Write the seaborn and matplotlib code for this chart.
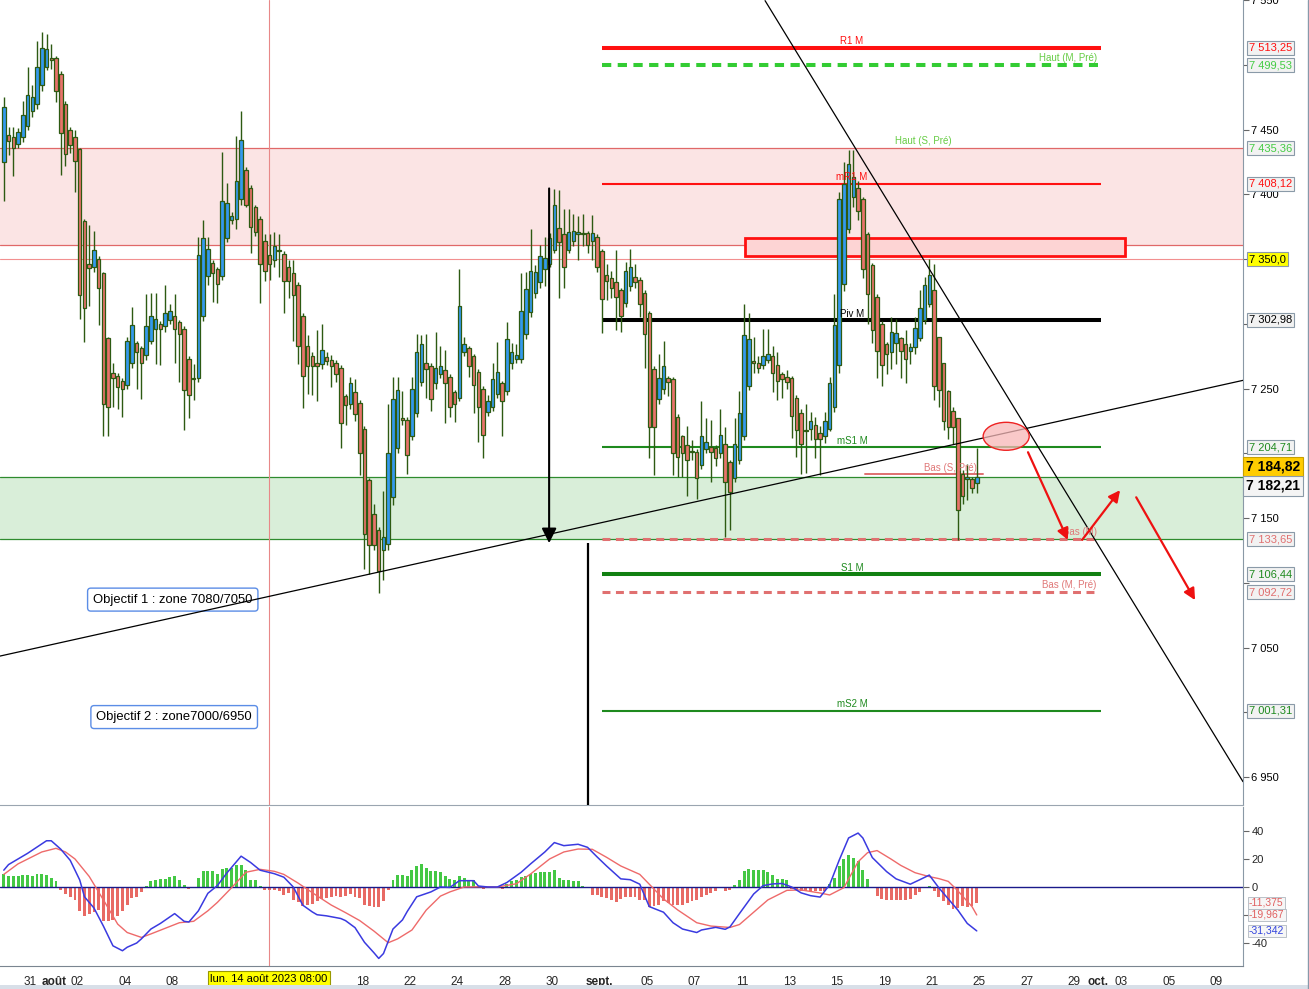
import numpy as np
import matplotlib
matplotlib.use("Agg")
import matplotlib.pyplot as plt
import matplotlib.transforms as mtransforms
from matplotlib.patches import Rectangle, Ellipse
from matplotlib.lines import Line2D
import seaborn as sns

sns.set_style("white")
plt.rcParams['font.family'] = ['Liberation Sans', 'DejaVu Sans']

# ---------------- DATA (2h candles, CAC 40, 27 Jul -> 22 Sep 2023) ----------------
opens = [
    7425, 7446, 7444, 7439, 7444, 7453, 7464, 7470, 7484, 7498,
    7505, 7505, 7493, 7470, 7450, 7444, 7435, 7379, 7346, 7344,
    7350, 7339, 7289, 7262, 7260, 7256, 7253, 7270, 7285, 7281,
    7276, 7287, 7296, 7300, 7298, 7303, 7306, 7301, 7296, 7273,
    7258, 7258, 7306, 7337, 7347, 7342, 7337, 7366, 7380, 7381,
    7396, 7419, 7405, 7390, 7381, 7364, 7353, 7349, 7356, 7354,
    7344, 7339, 7330, 7306, 7283, 7275, 7270, 7269, 7274, 7272,
    7270, 7266, 7244, 7238, 7247, 7239, 7219, 7179, 7153, 7141,
    7125, 7130, 7166, 7204, 7227, 7226, 7213, 7231, 7255, 7270,
    7267, 7254, 7261, 7264, 7259, 7247, 7243, 7278, 7281, 7275,
    7263, 7250, 7232, 7236, 7246, 7254, 7248, 7270, 7273, 7273,
    7292, 7309, 7324, 7332, 7342, 7346, 7357, 7374, 7369, 7357,
    7364, 7369, 7370, 7370, 7364, 7367, 7356, 7338, 7335, 7332,
    7326, 7316, 7329, 7336, 7334, 7324, 7308, 7265, 7242, 7250,
    7258, 7257, 7228, 7213, 7206, 7202, 7201, 7191, 7203, 7205,
    7204, 7200, 7207, 7193, 7181, 7195, 7213, 7252, 7271, 7270,
    7268, 7272, 7275, 7268, 7261, 7259, 7258, 7243, 7231, 7218,
    7219, 7222, 7216, 7213, 7219, 7236, 7268, 7331, 7373, 7398,
    7405, 7396, 7369, 7345, 7321, 7300, 7284, 7278, 7285, 7289,
    7284, 7279, 7282, 7289, 7303, 7315, 7326, 7290, 7270, 7248,
    7233, 7227, 7184, 7180, 7180, 7177,
]
highs = [
    7475, 7452, 7452, 7451, 7472, 7498, 7484, 7518, 7525, 7524,
    7516, 7507, 7495, 7472, 7452, 7450, 7436, 7381, 7376, 7372,
    7352, 7340, 7290, 7270, 7262, 7258, 7290, 7313, 7287, 7283,
    7323, 7324, 7324, 7302, 7330, 7315, 7323, 7303, 7298, 7275,
    7269, 7367, 7380, 7367, 7349, 7344, 7433, 7409, 7386, 7445,
    7464, 7421, 7407, 7392, 7383, 7369, 7369, 7371, 7369, 7356,
    7349, 7349, 7332, 7308, 7291, 7278, 7295, 7300, 7278, 7276,
    7272, 7268, 7246, 7259, 7257, 7241, 7221, 7181, 7161, 7143,
    7171, 7238, 7259, 7259, 7248, 7228, 7259, 7292, 7291, 7292,
    7270, 7294, 7283, 7280, 7261, 7249, 7342, 7290, 7283, 7277,
    7265, 7252, 7245, 7270, 7286, 7256, 7301, 7285, 7284, 7339,
    7340, 7373, 7345, 7361, 7367, 7370, 7404, 7403, 7389, 7389,
    7385, 7383, 7385, 7372, 7384, 7369, 7358, 7346, 7341, 7357,
    7328, 7348, 7358, 7346, 7336, 7326, 7310, 7267, 7277, 7287,
    7260, 7259, 7230, 7214, 7221, 7210, 7203, 7240, 7227, 7226,
    7206, 7234, 7220, 7195, 7227, 7248, 7315, 7308, 7290, 7275,
    7296, 7296, 7283, 7278, 7263, 7264, 7260, 7245, 7234, 7238,
    7232, 7228, 7221, 7232, 7259, 7323, 7402, 7425, 7434, 7434,
    7410, 7398, 7371, 7347, 7323, 7302, 7286, 7305, 7304, 7290,
    7295, 7285, 7305, 7326, 7336, 7350, 7346, 7290, 7270, 7249,
    7236, 7227, 7187, 7192, 7182, 7204,
]
lows = [
    7395, 7430, 7414, 7436, 7440, 7450, 7460, 7466, 7480, 7496,
    7497, 7471, 7415, 7422, 7432, 7402, 7304, 7286, 7314, 7340,
    7299, 7213, 7213, 7236, 7234, 7228, 7250, 7266, 7250, 7242,
    7272, 7284, 7269, 7268, 7294, 7300, 7270, 7255, 7218, 7227,
    7241, 7255, 7302, 7330, 7317, 7316, 7334, 7363, 7377, 7373,
    7392, 7390, 7355, 7368, 7316, 7333, 7334, 7344, 7336, 7308,
    7320, 7287, 7269, 7235, 7246, 7245, 7240, 7265, 7268, 7251,
    7255, 7204, 7222, 7234, 7225, 7183, 7111, 7107, 7125, 7092,
    7102, 7125, 7160, 7200, 7222, 7184, 7210, 7228, 7252, 7243,
    7233, 7250, 7258, 7223, 7228, 7224, 7240, 7275, 7259, 7231,
    7209, 7196, 7229, 7233, 7243, 7213, 7245, 7265, 7270, 7270,
    7288, 7305, 7320, 7328, 7329, 7344, 7355, 7320, 7328, 7355,
    7360, 7349, 7360, 7355, 7349, 7340, 7293, 7318, 7320, 7295,
    7294, 7313, 7325, 7328, 7305, 7266, 7196, 7183, 7238, 7246,
    7244, 7183, 7182, 7182, 7167, 7195, 7165, 7188, 7200, 7178,
    7190, 7196, 7135, 7141, 7178, 7192, 7210, 7249, 7262, 7262,
    7265, 7270, 7247, 7241, 7243, 7250, 7212, 7197, 7184, 7185,
    7210, 7196, 7183, 7208, 7217, 7232, 7262, 7325, 7370, 7390,
    7380, 7335, 7300, 7285, 7258, 7252, 7261, 7265, 7269, 7258,
    7254, 7269, 7277, 7287, 7300, 7313, 7241, 7236, 7218, 7211,
    7207, 7133, 7161, 7164, 7169, 7169,
]
closes = [
    7467, 7441, 7436, 7448, 7461, 7477, 7475, 7498, 7513, 7512,
    7504, 7480, 7447, 7431, 7438, 7426, 7322, 7312, 7343, 7357,
    7328, 7238, 7236, 7258, 7251, 7250, 7287, 7299, 7278, 7270,
    7298, 7306, 7304, 7296, 7308, 7310, 7296, 7292, 7249, 7245,
    7257, 7353, 7366, 7358, 7339, 7331, 7395, 7393, 7383, 7410,
    7442, 7392, 7375, 7371, 7346, 7341, 7346, 7360, 7357, 7333,
    7333, 7322, 7283, 7260, 7267, 7267, 7267, 7280, 7271, 7267,
    7261, 7223, 7237, 7254, 7230, 7200, 7138, 7129, 7129, 7109,
    7135, 7200, 7242, 7249, 7226, 7199, 7250, 7278, 7284, 7265,
    7242, 7266, 7267, 7254, 7236, 7238, 7314, 7284, 7267, 7253,
    7236, 7214, 7240, 7257, 7263, 7240, 7288, 7278, 7276, 7310,
    7327, 7341, 7340, 7352, 7351, 7366, 7392, 7363, 7344, 7371,
    7372, 7371, 7369, 7361, 7370, 7344, 7319, 7333, 7328, 7321,
    7306, 7341, 7344, 7332, 7315, 7292, 7220, 7220, 7258, 7267,
    7255, 7200, 7197, 7200, 7195, 7201, 7181, 7213, 7209, 7201,
    7196, 7214, 7178, 7170, 7207, 7231, 7291, 7288, 7270, 7266,
    7275, 7277, 7262, 7256, 7257, 7255, 7229, 7218, 7207, 7217,
    7225, 7211, 7211, 7225, 7254, 7299, 7396, 7408, 7423, 7413,
    7387, 7342, 7323, 7295, 7279, 7268, 7277, 7294, 7293, 7279,
    7273, 7282, 7297, 7312, 7330, 7338, 7252, 7249, 7225, 7220,
    7220, 7156, 7167, 7182, 7173, 7182,
]

# MACD histogram (one bar per candle)
macd_hist = [
    9.5, 8.1, 7.6, 7.9, 8.8, 8.6, 8.1, 9.5, 9.5, 8.8,
    6.7, 4.0, -2.4, -4.8, -7.1, -9.5, -16.9, -21.0, -19.0, -18.1,
    -16.2, -24.5, -24.5, -23.3, -20.5, -17.4, -12.6, -7.9, -7.1, -3.8,
    1.0, 4.0, 5.2, 6.0, 6.0, 7.1, 8.1, 5.2, 1.7, -1.2,
    0.2, 6.7, 11.2, 11.7, 11.4, 9.3, 12.9, 13.8, 13.3, 16.0,
    16.0, 12.4, 5.2, 5.2, 1.0, -2.4, -2.4, -2.4, -3.1, -6.0,
    -4.3, -9.0, -10.7, -13.3, -12.6, -11.9, -10.2, -8.6, -7.9, -7.1,
    -6.7, -7.1, -6.2, -5.0, -7.1, -7.9, -12.6, -13.8, -14.5, -14.5,
    -10.2, -1.9, 5.2, 8.6, 8.6, 7.6, 12.1, 14.8, 16.7, 13.6,
    11.4, 11.2, 11.0, 7.6, 5.7, 5.2, 8.1, 6.4, 4.8, 4.8,
    0.5, -1.4, -1.0, -0.5, -0.3, -1.2, 2.4, 4.0, 5.2, 6.9,
    8.1, 9.3, 10.0, 10.5, 10.5, 10.5, 11.9, 6.4, 5.2, 5.2,
    4.0, 4.0, 1.0, 0.2, -5.5, -5.7, -7.1, -7.9, -9.0, -11.0,
    -8.6, -7.1, -7.1, -7.1, -9.0, -9.0, -14.5, -13.8, -12.6, -10.2,
    -11.4, -13.1, -13.1, -12.6, -11.4, -10.2, -9.0, -7.1, -5.5, -4.3,
    -3.1, -0.7, -2.6, -1.9, 1.7, 5.2, 11.7, 12.9, 12.4, 12.4,
    12.4, 10.7, 8.8, 6.0, 6.0, 4.8, -1.4, -2.4, -3.1, -3.1,
    -2.6, -3.1, -3.1, -3.1, 2.4, 6.4, 15.2, 20.2, 23.1, 20.7,
    18.3, 12.4, 6.0, 0.0, -6.2, -8.6, -9.0, -9.0, -9.0, -9.0,
    -9.0, -8.6, -5.5, -3.8, 0.0, 1.0, -3.1, -7.1, -10.2, -12.6,
    -15.7, -15.0, -13.8, -14.5, -13.8, -11.4,
]

# MACD line (blue), sampled at candle indices
macd_idx = [0, 1, 5, 9, 10, 12, 14, 16, 17, 19, 21, 23, 25, 26, 28, 29, 31, 33, 36, 38,
            39, 41, 43, 45, 47, 50, 52, 54, 57, 59, 61, 63, 65, 66, 68, 71, 72, 74, 76, 78,
            79, 80, 82, 84, 85, 87, 90, 92, 94, 96, 99, 100, 102, 104, 106, 109, 111, 114, 116, 118,
            121, 123, 125, 127, 130, 132, 134, 136, 139, 141, 143, 146, 147, 150, 152, 153, 155, 158, 160, 162,
            164, 166, 168, 170, 172, 174, 176, 178, 180, 181, 183, 186, 188, 191, 193, 195, 197, 199, 201, 203, 205]
macd_val = [12, 16, 24, 33, 33, 27, 19, 5, -7, -15, -28, -42, -45.5, -43, -40, -37, -30, -26, -19, -24.5,
            -25, -17, -4.5, 1, 10, 22, 17.5, 12, 9.5, 7, 0, -13, -17.8, -19.8, -20.6, -22.5, -24, -29, -39.5, -47,
            -51, -47.5, -30, -23.5, -17.5, -7, -3.5, 0, -0.3, 4.5, 4.5, 0.7, 0, 0, 3.2, 10.5, 16.5, 25, 31.7, 29.5,
            30.5, 28.3, 21.5, 15, 5.8, 5.2, 2, -14, -18, -25.5, -30, -32.5, -30.7, -28.8, -30.2, -28.5, -19, -5, 1, 2.2,
            2.5, 0, -4.2, -6.2, -7.2, 1.5, 19, 35, 38.5, 35, 21, 11, 5.8, 2, 5.2, 8.5, -0.5, -8.5, -16.4, -26, -31.342]

# Signal line (red), sampled at candle indices
signal_idx = [0, 3, 8, 11, 13, 15, 18, 21, 24, 26, 29, 31, 34, 37, 40, 43, 45, 48, 51, 54,
              57, 59, 62, 66, 69, 72, 75, 78, 81, 83, 86, 89, 92, 94, 97, 101, 104, 108, 111, 115,
              118, 121, 124, 127, 130, 134, 136, 139, 142, 146, 149, 153, 155, 158, 161, 165, 168, 172, 174, 177,
              180, 182, 184, 187, 189, 192, 195, 197, 199, 200, 201, 202, 203, 204, 205]
signal_val = [9, 16.5, 25, 27.6, 25, 20, 7.5, -9.3, -26.5, -32.5, -36, -33.5, -29.5, -25.5, -24.5, -17, -11, -0.5, 10.5, 12.6,
              11.2, 9, 2.8, -6.3, -12.9, -18.3, -24, -31.5, -39.8, -37, -30.7, -16.5, -6.5, -3.5, 0, 0.2, 0, 2.3, 9.3, 20,
              25, 27.1, 26.9, 21.2, 15, 9, 2, -8.5, -16.4, -25.5, -27.9, -28.9, -26.8, -18, -9.2, -2.4, -2.1, -4.3, -5.7, -0.5,
              18, 24.5, 26, 19.8, 15.4, 10.2, 7.4, 6, 4, 0.7, -2.7, -6.4, -10.3, -14, -19.967]

# x axis: trading-day offsets from 31 Jul and their labels
tick_days = [0, 1, 2, 4, 6, 8, 10, 12, 14, 16, 18, 20, 22, 24, 26, 28, 30, 32, 34, 36,
             38, 40, 42, 44, 45, 46, 48, 50]
tick_labels = ["31", "août", "02", "04", "08", "", "", "", "18", "22", "24", "28", "30", "sept.", "05", "07",
               "11", "13", "15", "19", "21", "25", "27", "29", "oct.", "03", "05", "09"]
month_labels = ["août", "sept.", "oct."]
crosshair_label = "lun. 14 août 2023 08:00"
crosshair_day = 10

# monthly pivot levels (drawn from 1 Sep to end of month)
level_names = ["R1 M", "Haut (M, Pré)", "mR1 M", "Piv M", "mS1 M", "Bas (M)", "S1 M", "Bas (M, Pré)", "mS2 M"]
level_values = [7513.25, 7499.53, 7408.12, 7302.98, 7204.71, 7133.65, 7106.44, 7092.72, 7001.31]
weekly_high = 7435.36      # Haut (S, Pré)
weekly_low = 7183.8        # Bas (S, Pré)
red_zone = (7360.5, 7435.36)
green_zone = (7133.65, 7182.0)
resistance_line = 7350.0
last_price = 7182.21
ref_price = 7184.82

# trader annotations (candle index, price)
trend_up_x, trend_up_y = [-0.8, 261.1], [7043.4, 7256.3]
trend_down_x, trend_down_y = [160.4, 261.1], [7549.5, 6946.4]
drop_arrow_x, drop_arrow_y = 114.9, [7404.5, 7130.6]
projection_x, projection_top = 123.1, 7130.6
red_arrows = [((215.8, 7200.8), (224.2, 7133.1)),
              ((227.2, 7133.1), (235.2, 7171.5)),
              ((238.6, 7166.0), (251.0, 7086.6))]
objectives = ["Objectif 1 : zone 7080/7050", "Objectif 2 : zone7000/6950"]
objective_pos = [(35.6, 7087.0), (35.9, 6996.3)]

# ---------------- FIGURE ----------------
W, H = 1309, 989
fig = plt.figure(figsize=(W / 100, H / 100), dpi=100)
fig.patch.set_facecolor("white")
ax = fig.add_axes([0, 1 - 805 / H, 1243 / W, 805 / H])
axm = fig.add_axes([0, 1 - 966 / H, 1243 / W, (966 - 807) / H])

XMIN, XMAX = -0.8, 261.1
o = np.array(opens, float); h = np.array(highs, float)
l = np.array(lows, float); c = np.array(closes, float)
idx = np.arange(len(c))

# zones
ax.axhspan(red_zone[0], red_zone[1], color="#fbe4e4", zorder=0, lw=0)
for v in red_zone:
    ax.axhline(v, color="#e06868", lw=0.9, zorder=1)
ax.axhline(resistance_line, color="#f29090", lw=0.8, zorder=1)
ax.axhspan(green_zone[0], green_zone[1], color="#d9eed9", zorder=0, lw=0)
for v in green_zone:
    ax.axhline(v, color="#2e8b2e", lw=0.9, zorder=1)

# crosshair
for a in (ax, axm):
    a.axvline(5.5 + 5 * crosshair_day + 0.4, color="#e88888", lw=0.8, zorder=1)

# pivot levels
lv_start, lv_end = 126.0, 231.2
styles = {
    "R1 M": dict(color="#ff1010", lw=2.9, ls="-"),
    "Haut (M, Pré)": dict(color="#33cc33", lw=2.9, dashes=(2.3, 1.6)),
    "mR1 M": dict(color="#ff1010", lw=1.5, ls="-"),
    "Piv M": dict(color="black", lw=2.9, ls="-"),
    "mS1 M": dict(color="#1e8a1e", lw=1.5, ls="-"),
    "Bas (M)": dict(color="#e07070", lw=2.2, dashes=(2.6, 1.8)),
    "S1 M": dict(color="#118011", lw=2.9, ls="-"),
    "Bas (M, Pré)": dict(color="#e07070", lw=2.2, dashes=(2.6, 1.8)),
    "mS2 M": dict(color="#1e8a1e", lw=1.5, ls="-"),
}
text_col = {"R1 M": "#ff1010", "Haut (M, Pré)": "#66cc44", "mR1 M": "#ff1010", "Piv M": "black",
            "mS1 M": "#1e8a1e", "Bas (M)": "#e07878", "S1 M": "#1e8a1e", "Bas (M, Pré)": "#e07878",
            "mS2 M": "#1e8a1e"}
for name, val in zip(level_names, level_values):
    st = styles[name]
    end = lv_end if "dashes" not in st else lv_end - 0.6
    ax.plot([lv_start, end], [val, val], zorder=2, solid_capstyle="butt", **st)
    if name.startswith("Haut") or name.startswith("Bas"):
        ax.annotate(name, xy=(230.3, val), xytext=(0, 1.5), textcoords="offset points",
                    ha="right", va="bottom", fontsize=7, color=text_col[name], zorder=6)
    else:
        ax.annotate(name, xy=(178.7, val), xytext=(0, 1.0), textcoords="offset points",
                    ha="center", va="bottom", fontsize=7, color=text_col[name], zorder=6)

ax.annotate("Haut (S, Pré)", xy=(193.7, weekly_high), xytext=(0, 1.5), textcoords="offset points",
            ha="center", va="bottom", fontsize=7, color="#66cc44", zorder=6)
ax.plot([181.5, 206.3], [weekly_low, weekly_low], color="#e07070", lw=1.4, zorder=2)
ax.annotate("Bas (S, Pré)", xy=(199.4, weekly_low), xytext=(0, 1.0), textcoords="offset points",
            ha="center", va="bottom", fontsize=7, color="#e07878", zorder=6)

# red rectangle
ax.add_patch(Rectangle((156.2, 7352.0), 80.0, 13.9, facecolor="#fdd4d4", edgecolor="#ff1010",
                       lw=2.0, zorder=2))

# objective boxes (under the trend line, as in the original)
for txt, (px, py) in zip(objectives, objective_pos):
    ax.text(px, py, txt, ha="center", va="center", fontsize=9.4, color="black", zorder=4.5,
            bbox=dict(boxstyle="round,pad=0.42,rounding_size=0.25", fc="white", ec="#5b8de6", lw=1.0))

# trend lines
ax.plot(trend_up_x, trend_up_y, color="black", lw=0.9, zorder=5)
ax.plot(trend_down_x, trend_down_y, color="black", lw=0.9, zorder=5)

# candles
up = c >= o
body_lo = np.minimum(o, c)
body_h = np.maximum(np.abs(c - o), 0.9)
ax.vlines(idx, l, h, color="#2d5a12", lw=1.0, zorder=3)
ax.bar(idx, body_h, bottom=body_lo, width=0.74,
       color=np.where(up, "#3399ee", "#e8736b"), edgecolor="#2d5a12", linewidth=0.9, zorder=4)

# black drop arrow and projection line
ax.annotate("", xy=(drop_arrow_x, drop_arrow_y[1]), xytext=(drop_arrow_x, drop_arrow_y[0]),
            arrowprops=dict(arrowstyle="-|>", color="black", lw=1.5, mutation_scale=22,
                            shrinkA=0, shrinkB=0), zorder=7)
ax.vlines(projection_x, 6900, projection_top, color="black", lw=1.6, zorder=7)

# ellipse + red arrows
ax.add_patch(Ellipse((211.2, 7213.1), 9.7, 21.6, facecolor=(0.97, 0.72, 0.72, 0.75),
                     edgecolor="#ee2222", lw=1.0, zorder=6))
for (x0, y0), (x1, y1) in red_arrows:
    ax.annotate("", xy=(x1, y1), xytext=(x0, y0),
                arrowprops=dict(arrowstyle="-|>", color="#ee1111", lw=1.6, mutation_scale=17,
                                shrinkA=0, shrinkB=0), zorder=7)

# axes styling (main)
ax.set_xlim(XMIN, XMAX)
ax.set_ylim(6928.4, 7549.5)
for s in ("left", "top"):
    ax.spines[s].set_visible(False)
ax.spines["right"].set_color("#8a99a6")
ax.spines["bottom"].set_color("#9aa5b0")
ax.set_xticks([])
ax.yaxis.tick_right()
yt = list(range(6950, 7551, 50))
shown = {7550, 7450, 7400, 7250, 7150, 7050, 6950}
ax.set_yticks(yt)
ax.set_yticklabels([f"{v:,}".replace(",", " ") if v in shown else "" for v in yt])
ax.tick_params(axis="y", direction="out", length=4, width=0.8, color="#666666",
               labelsize=8, pad=2, labelcolor="black")
ax.grid(False)


def fr(v, dec):
    s = f"{v:,.{dec}f}".replace(",", " ").replace(".", ",")
    return s


trans = mtransforms.blended_transform_factory(ax.transAxes, ax.transData)
right_labels = [
    (7513.25, 7513.25, 2, "#ff1010", "#f2f2f2"),
    (7499.53, 7499.53, 2, "#44cc44", "#f2f2f2"),
    (7435.36, 7435.36, 2, "#44cc44", "#f2f2f2"),
    (7408.12, 7408.12, 2, "#ff1010", "#f2f2f2"),
    (7350.0, 7350.0, 1, "black", "#ffff00"),
    (7302.98, 7302.98, 2, "black", "#f2f2f2"),
    (7204.71, 7204.71, 2, "#1e8a1e", "#f2f2f2"),
    (7133.65, 7133.65, 2, "#e07070", "#f2f2f2"),
    (7106.44, 7106.44, 2, "#1e8a1e", "#f2f2f2"),
    (7092.72, 7092.72, 2, "#e07070", "#f2f2f2"),
    (7001.31, 7001.31, 2, "#1e8a1e", "#f2f2f2"),
]
for val, ypos, dec, col, bg in right_labels:
    ax.text(1.0048, ypos, fr(val, dec), transform=trans, ha="left", va="center", fontsize=8,
            color=col, zorder=10, clip_on=False,
            bbox=dict(boxstyle="square,pad=0.18", fc=bg, ec="#8a9aa8", lw=0.8))
ax.text(1.0025, 7189.6, fr(ref_price, 2), transform=trans, ha="left", va="center", fontsize=10,
        fontweight="bold", color="black", zorder=11, clip_on=False,
        bbox=dict(boxstyle="square,pad=0.2", fc="#ffcc00", ec="#c8a000", lw=0.8))
ax.text(1.0025, 7174.9, fr(last_price, 2), transform=trans, ha="left", va="center", fontsize=10,
        fontweight="bold", color="black", zorder=11, clip_on=False,
        bbox=dict(boxstyle="square,pad=0.2", fc="#f4f4f4", ec="#8a9aa8", lw=0.8))

# ---------------- MACD panel ----------------
hist = np.array(macd_hist)
axm.bar(idx, hist, width=0.62, color=np.where(hist >= 0, "#44c844", "#e86a64"), lw=0, zorder=2)
axm.axhline(0, color="#1a1a8a", lw=1.0, zorder=3)
sns.lineplot(x=signal_idx, y=signal_val, ax=axm, color="#ee6a6a", lw=1.0, zorder=4, estimator=None)
sns.lineplot(x=macd_idx, y=macd_val, ax=axm, color="#3a3ae0", lw=1.1, zorder=5, estimator=None)
axm.set_xlim(XMIN, XMAX)
axm.set_ylim(-56.4, 57.1)
axm.set_xlabel("")
axm.set_ylabel("")
for s in ("left", "top"):
    axm.spines[s].set_visible(False)
axm.spines["right"].set_color("#8a99a6")
axm.spines["bottom"].set_color("#7a8590")
axm.yaxis.tick_right()
axm.set_yticks([40, 20, 0, -20, -40])
axm.set_yticklabels(["40", "20", "0", "", "-40"])
axm.tick_params(axis="y", direction="out", length=4, width=0.8, color="#666666", labelsize=8, pad=2)
xt = [5.5 + 5 * d for d in tick_days]
axm.set_xticks(xt)
axm.set_xticklabels(tick_labels)
axm.tick_params(axis="x", direction="out", length=4, width=0.8, color="#555555", labelsize=8.5, pad=3)
for lab in axm.get_xticklabels():
    if lab.get_text() in month_labels:
        lab.set_fontweight("bold")

transm = mtransforms.blended_transform_factory(axm.transAxes, axm.transData)
for val, col in [(-11.375, "#e06060"), (-19.967, "#e06060"), (-31.342, "#3344dd")]:
    axm.text(1.0048, val, fr(val, 3), transform=transm, ha="left", va="center", fontsize=7.5,
             color=col, zorder=10, clip_on=False,
             bbox=dict(boxstyle="square,pad=0.12", fc="#f6f6f6", ec="#b0b8c0", lw=0.6))

transx = mtransforms.blended_transform_factory(axm.transData, axm.transAxes)
axm.text(5.5 + 5 * crosshair_day + 0.4, -0.048, crosshair_label, transform=transx, ha="center", va="top",
         fontsize=8, color="black", zorder=10, clip_on=False,
         bbox=dict(boxstyle="square,pad=0.2", fc="#ffff00", ec="#999900", lw=0.8))

# frame extras
fig.add_artist(Line2D([1307.5 / W, 1307.5 / W], [0, 1], color="#8899aa", lw=1.0))
fig.add_artist(Rectangle((0, 0), 1, 4 / H, transform=fig.transFigure, color="#d8dfe8", lw=0))

fig.savefig("out.png", dpi=100, facecolor="white")
